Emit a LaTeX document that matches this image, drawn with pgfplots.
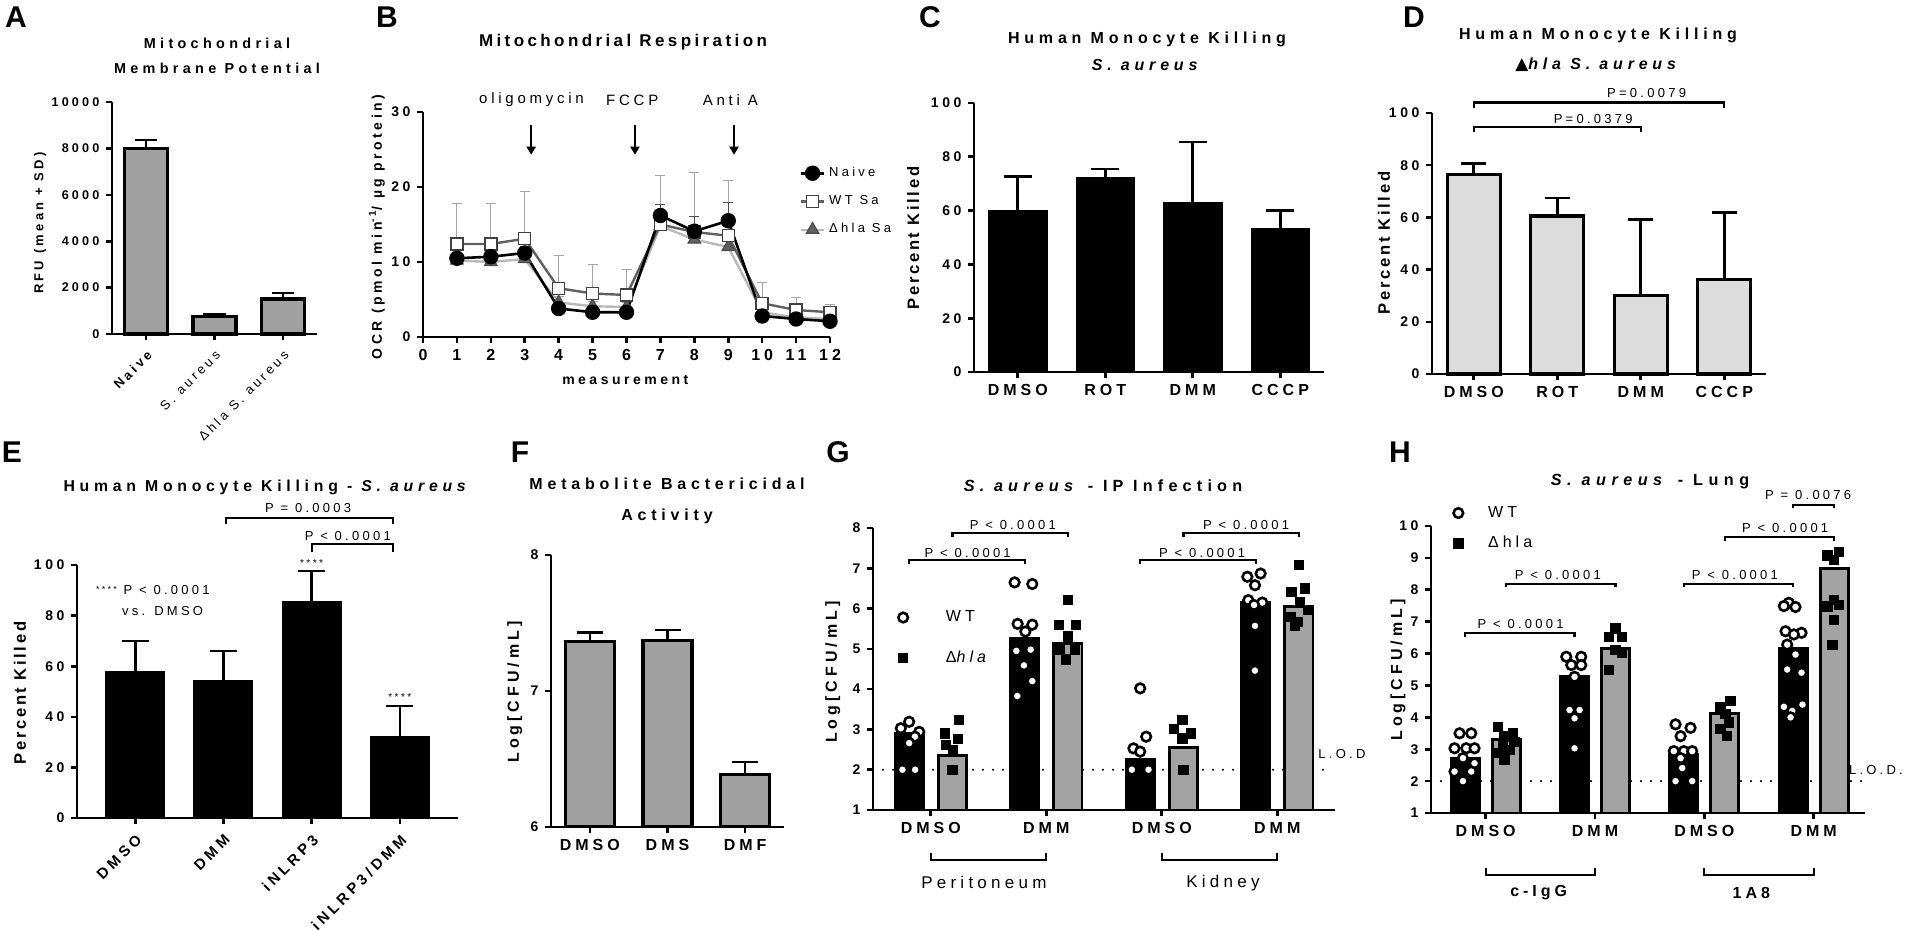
\documentclass[border=0pt]{standalone}
\usepackage{fontspec}
\setmainfont{Liberation Sans}[LetterSpace=25]
\newfontfamily\plainfont{Liberation Sans}
\newfontfamily\titlefont{Liberation Sans}[LetterSpace=30]
\newfontfamily\labelfont{Liberation Sans}[LetterSpace=16]
\newfontfamily\symfont{DejaVu Sans}
\usepackage{pgfplots}
\pgfplotsset{compat=1.18}
\usetikzlibrary{arrows.meta}
\definecolor{barA}{HTML}{A0A0A0}
\definecolor{barD}{HTML}{DCDCDC}
\definecolor{barG}{HTML}{A3A3A3}
\newcommand{\ttl}[2]{\titlefont\fontsize{#1}{#2}\selectfont\bfseries}
\newcommand{\pvfont}{\fontsize{6.5}{7}\selectfont}
\newcommand{\lett}{\plainfont\fontsize{15}{15}\selectfont\bfseries}
\tikzset{sig/.style={line width=1.1pt}, pv/.style={font=\pvfont}}
\pgfplotsset{
  prism/.style={
    scale only axis, anchor=south west,
    axis x line*=bottom, axis y line*=left,
    axis line style={line width=1.3pt, black},
    tick align=outside, major tick length=2.8pt,
    tick style={line width=1.3pt, black},
    x tick label style={font=\fontsize{8}{8}\selectfont\bfseries},
    y tick label style={font=\fontsize{7}{7}\selectfont\bfseries},
    scaled y ticks=false,
    ylabel style={font=\fontsize{8}{9}\selectfont\bfseries, anchor=center},
    clip=false,
  },
  pklabel/.style={ylabel style={font=\labelfont\fontsize{8.3}{9}\selectfont\bfseries}},
  ebar/.style={/pgfplots/error bars/y dir=plus, /pgfplots/error bars/y explicit,
    /pgfplots/error bars/error bar style={line width=1.3pt, black},
    /pgfplots/error bars/error mark options={rotate=90, line width=1.3pt, black, mark size=#1}},
  ebarB/.style={/pgfplots/error bars/y dir=plus, /pgfplots/error bars/y explicit,
    /pgfplots/error bars/error bar style={line width=0.5pt, #1},
    /pgfplots/error bars/error mark options={rotate=90, line width=0.5pt, #1, mark size=2.5pt}},
  wtpts/.style={only marks, mark=*, mark size=2.4pt, mark options={fill=white, draw=black, line width=1.3pt}},
  hlapts/.style={only marks, mark=square*, mark size=2.3pt, mark options={fill=black, draw=black}},
  lod/.style={forget plot, line width=1.2pt, dash pattern=on 0pt off 5pt, line cap=round},
}
\begin{document}
\begin{tikzpicture}
\path[use as bounding box] (0,0) rectangle (960pt,-465pt);

% ---------------- A
\begin{axis}[prism, at={(56pt,-167pt)}, width=102.5pt, height=116pt,
  xmin=-0.5, xmax=2.5, ymin=0, ymax=10000,
  ytick={0,2000,4000,6000,8000,10000}, yticklabels={0,2000,4000,6000,8000,10000},
  xtick={0,1,2}, xticklabels={{\bfseries Naive},{\mdseries S. aureus},{\mdseries Δhla S. aureus}},
  x tick label style={rotate=45, anchor=north east, font=\fontsize{6.5}{7}\selectfont},
  y tick label style={font=\fontsize{6.3}{7}\selectfont\bfseries},
  ylabel={RFU (mean + SD)},
  ylabel style={at={(axis description cs:-0.351,0.478)}, font=\fontsize{6.5}{7}\selectfont\bfseries}]
\addplot[ybar, bar shift=0pt, bar width=0.63, fill=barA, draw=black, line width=1.6pt, ebar=5.5pt]
  coordinates {(0,7980) +- (0,380) (1,740) +- (0,110) (2,1510) +- (0,250)};
\end{axis}

% ---------------- B
\begin{axis}[prism, at={(211.5pt,-168.5pt)}, width=203.5pt, height=112.5pt,
  xmin=0, xmax=12, ymin=0, ymax=30,
  xtick={0,1,2,3,4,5,6,7,8,9,10,11,12}, xticklabels={0,1,2,3,4,5,6,7,8,9,10,11,12},
  ytick={0,10,20,30}, yticklabels={0,10,20,30},
  tick label style={font=\fontsize{6.4}{7}\selectfont\bfseries},
  xlabel={measurement},
  xlabel style={at={(axis description cs:0.497,-0.191)}, anchor=center, font=\fontsize{7}{8}\selectfont\bfseries},
  ylabel={OCR (pmol min\textsuperscript{-1}/ µg protein)},
  ylabel style={at={(axis description cs:-0.113,0.489)}, font=\fontsize{7}{8}\selectfont\bfseries},
  legend style={at={(axis description cs:0.925,0.775)}, anchor=north west, draw=none, fill=none,
    font=\fontsize{6.5}{7}\selectfont, row sep=4pt, inner sep=0pt},
  legend cell align=left, reverse legend,
  legend image code/.code={\draw[mark repeat=2,mark phase=2,#1] plot coordinates {(0cm,0cm)(0.2cm,0cm)(0.4cm,0cm)};}]
\addplot[color=gray!55, line width=1.2pt, mark=triangle*, mark size=3.6pt,
  mark options={solid, fill=gray!75!black, draw=gray!60!black, line width=0.6pt}, ebarB=gray!70]
  coordinates {(1,10.2)+-(0,0.5) (2,10.0)+-(0,0.5) (3,10.4)+-(0,0.6) (4,4.6)+-(0,0.8) (5,4.1)+-(0,0.6) (6,4.0)+-(0,0.6)
   (7,14.8)+-(0,1.0) (8,13.0)+-(0,3.0) (9,12.0)+-(0,2.0) (10,3.3)+-(0,0.5) (11,2.6)+-(0,0.4) (12,2.4)+-(0,0.3)};
\addlegendentry{Δhla Sa}
\addplot[color=gray!75!black, line width=1.2pt, mark=square*, mark size=3pt,
  mark options={solid, fill=white, draw=black!75, line width=0.7pt}, ebarB=gray!70]
  coordinates {(1,12.4)+-(0,5.4) (2,12.4)+-(0,5.4) (3,13.1)+-(0,6.3) (4,6.5)+-(0,4.4) (5,5.8)+-(0,3.8) (6,5.6)+-(0,3.4)
   (7,15.0)+-(0,6.5) (8,14.0)+-(0,7.9) (9,13.5)+-(0,7.4) (10,4.5)+-(0,2.8) (11,3.6)+-(0,1.7) (12,3.3)+-(0,1.0)};
\addlegendentry{WT Sa}
\addplot[color=black, line width=1.3pt, mark=*, mark size=3.2pt,
  mark options={solid, fill=black}, ebarB=black!70]
  coordinates {(1,10.5)+-(0,0.6) (2,10.7)+-(0,0.6) (3,11.2)+-(0,0.8) (4,3.8)+-(0,0.8) (5,3.3)+-(0,0.5) (6,3.3)+-(0,0.5)
   (7,16.2)+-(0,1.5) (8,14.1)+-(0,2.0) (9,15.5)+-(0,2.4) (10,2.8)+-(0,0.5) (11,2.4)+-(0,0.4) (12,2.1)+-(0,0.3)};
\addlegendentry{Naive}
\draw[line width=1pt, -{Triangle[length=4pt,width=4.5pt]}] (axis cs:3.19,28.3) -- (axis cs:3.19,24.3);
\draw[line width=1pt, -{Triangle[length=4pt,width=4.5pt]}] (axis cs:6.25,28.3) -- (axis cs:6.25,24.3);
\draw[line width=1pt, -{Triangle[length=4pt,width=4.5pt]}] (axis cs:9.17,28.3) -- (axis cs:9.17,24.3);
\node[font=\fontsize{7.5}{8}\selectfont] at (axis cs:3.2,31.6) {oligomycin};
\node[font=\fontsize{7.5}{8}\selectfont] at (axis cs:6.17,31.6) {FCCP};
\node[font=\fontsize{7.5}{8}\selectfont] at (axis cs:9.06,31.6) {Anti A};
\end{axis}

% ---------------- C
\begin{axis}[prism, pklabel, at={(487pt,-186pt)}, width=175pt, height=134.5pt,
  xmin=-0.5, xmax=3.5, ymin=0, ymax=100,
  ytick={0,20,40,60,80,100}, yticklabels={0,20,40,60,80,100},
  xtick={0,1,2,3}, xticklabels={DMSO,ROT,DMM,CCCP},
  ylabel={Percent Killed}, ylabel style={at={(axis description cs:-0.174,0.498)}}]
\addplot[ybar, bar shift=0pt, bar width=0.65, fill=black, draw=black, line width=1.3pt, ebar=7pt]
  coordinates {(0,59.6) +- (0,13.1) (1,72) +- (0,3.5) (2,62.7) +- (0,22.8) (3,53.2) +- (0,6.8)};
\end{axis}

% ---------------- D
\begin{axis}[prism, pklabel, at={(716pt,-187pt)}, width=167pt, height=130.5pt,
  xmin=-0.5, xmax=3.5, ymin=0, ymax=100,
  ytick={0,20,40,60,80,100}, yticklabels={0,20,40,60,80,100},
  xtick={0,1,2,3}, xticklabels={DMSO,ROT,DMM,CCCP},
  ylabel={Percent Killed}, ylabel style={at={(axis description cs:-0.144,0.502)}}]
\addplot[ybar, bar shift=0pt, bar width=0.635, fill=barD, draw=black, line width=1.6pt, ebar=6.25pt]
  coordinates {(0,76.4) +- (0,4.2) (1,60.5) +- (0,7.0) (2,30) +- (0,29.2) (3,36.3) +- (0,25.6)};
\draw[sig] (axis cs:0,92.7) -- (axis cs:0,94.6) -- (axis cs:2,94.6) -- (axis cs:2,92.7);
\node[pv] at (axis cs:1.43,97.7) {P=0.0379};
\draw[sig] (axis cs:0,102) -- (axis cs:0,104) -- (axis cs:3,104) -- (axis cs:3,102);
\node[pv] at (axis cs:2.07,107.6) {P=0.0079};
\end{axis}

% ---------------- E
\begin{axis}[prism, pklabel, at={(38.5pt,-409pt)}, width=190.5pt, height=126.5pt,
  xmin=-0.66, xmax=3.66, ymin=0, ymax=100,
  ytick={0,20,40,60,80,100}, yticklabels={0,20,40,60,80,100},
  xtick={0,1,2,3}, xticklabels={DMSO,DMM,iNLRP3,iNLRP3/DMM},
  x tick label style={rotate=45, anchor=north east, font=\fontsize{7.5}{8}\selectfont\bfseries},
  ylabel={Percent Killed}, ylabel style={at={(axis description cs:-0.15,0.494)}}]
\addplot[ybar, bar shift=0pt, bar width=0.65, fill=black, draw=black, line width=1.3pt, ebar=6.7pt]
  coordinates {(0,57.5) +- (0,12.5) (1,54.2) +- (0,11.8) (2,85.1) +- (0,12.5) (3,32) +- (0,12.2)};
\draw[sig] (axis cs:1.03,116.3) -- (axis cs:1.03,118.6) -- (axis cs:2.92,118.6) -- (axis cs:2.92,116.3);
\node[pv] at (axis cs:1.96,122.5) {P = 0.0003};
\draw[sig] (axis cs:2,105) -- (axis cs:2,108.3) -- (axis cs:2.92,108.3) -- (axis cs:2.92,105);
\node[pv] at (axis cs:2.41,111.5) {P < 0.0001};
\node[font=\fontsize{5}{5}\selectfont] at (axis cs:2,100.8) {****};
\node[font=\fontsize{5}{5}\selectfont] at (axis cs:3,47.8) {****};
\node[pv] at (axis cs:0.2,90) {\raisebox{0.3ex}{\fontsize{4.5}{5}\selectfont****} P < 0.0001};
\node[pv] at (axis cs:0.31,82) {vs. DMSO};
\end{axis}

% ---------------- F
\begin{axis}[prism, clip=true, clip mode=individual, at={(275.5pt,-413.5pt)}, width=116.5pt, height=136pt,
  xmin=-0.5, xmax=2.5, ymin=6, ymax=8, ytick={6,7,8}, yticklabels={6,7,8},
  xtick={0,1,2}, xticklabels={DMSO,DMS,DMF},
  ylabel={Log[CFU/mL]}, ylabel style={at={(axis description cs:-0.155,0.496)}}]
\addplot[ybar, bar shift=0pt, bar width=0.63, fill=barA, draw=black, line width=1.6pt, ebar=6.5pt]
  coordinates {(0,7.364) +- (0,0.066) (1,7.37) +- (0,0.08) (2,6.384) +- (0,0.093)};
\end{axis}

% ---------------- G
\begin{axis}[prism, clip=true, clip mode=individual, at={(436.5pt,-405pt)}, width=231pt, height=141pt,
  xmin=-0.5, xmax=3.5, ymin=1, ymax=8,
  ytick={1,2,3,4,5,6,7,8}, yticklabels={1,2,3,4,5,6,7,8},
  xtick={0,1,2,3}, xticklabels={DMSO,DMM,DMSO,DMM},
  ylabel={Log[CFU/mL]}, ylabel style={at={(axis description cs:-0.087,0.489)}},
  legend style={at={(axis description cs:0.054,0.723)}, anchor=north west, draw=none, fill=none,
    font=\fontsize{8}{9}\selectfont, row sep=9pt, column sep=17pt, inner sep=0pt},
  legend cell align=left]
\addplot[lod] coordinates {(-0.5,2) (3.45,2)};
\addplot[ybar, bar shift=0pt, bar width=0.243, fill=black, draw=black, line width=1.4pt, forget plot]
  coordinates {(-0.1875,2.9) (0.8125,5.26) (1.8125,2.26) (2.8125,6.15)};
\addplot[ybar, bar shift=0pt, bar width=0.243, fill=barG, draw=black, line width=1.4pt, forget plot]
  coordinates {(0.1875,2.36) (1.1875,5.14) (2.1875,2.55) (3.1875,6.05)};
\addplot[wtpts] coordinates {
  (-0.187,3.19) (-0.259,3.03) (-0.100,2.94) (-0.137,2.82) (-0.187,2.66) (-0.245,2.0) (-0.135,2.0)
  (0.726,6.65) (0.879,6.61) (0.752,5.62) (0.879,5.60) (0.819,5.43) (0.741,4.95) (0.865,4.98) (0.807,4.59) (0.879,4.20) (0.749,3.83)
  (1.813,4.02) (1.865,2.82) (1.755,2.53) (1.813,2.45) (1.741,2.0) (1.885,2.0)
  (2.856,6.87) (2.741,6.79) (2.807,6.58) (2.749,6.21) (2.870,6.15) (2.799,6.09) (2.807,5.57) (2.807,4.46)};
\addlegendentry{WT}
\addplot[hlapts] coordinates {
  (0.245,3.23) (0.123,2.90) (0.236,2.76) (0.134,2.62) (0.193,2.50) (0.187,2.0)
  (1.187,6.21) (1.106,5.60) (1.259,5.60) (1.187,5.31) (1.115,4.98) (1.245,4.98) (1.173,4.74)
  (2.178,3.23) (2.106,3.02) (2.251,2.90) (2.178,2.78) (2.187,2.0)
  (3.190,7.08) (3.239,6.50) (3.123,6.42) (3.196,6.17) (3.268,5.96) (3.117,5.80) (3.181,5.67) (3.152,5.58)};
\addlegendentry{Δ\textit{hla}}
\draw[sig] (axis cs:-0.1875,7.1) -- (axis cs:-0.1875,7.2) -- (axis cs:0.8125,7.2) -- (axis cs:0.8125,7.1);
\node[pv] at (axis cs:0.32,7.38) {P < 0.0001};
\draw[sig] (axis cs:0.1875,7.77) -- (axis cs:0.1875,7.87) -- (axis cs:1.1875,7.87) -- (axis cs:1.1875,7.77);
\node[pv] at (axis cs:0.71,8.07) {P < 0.0001};
\draw[sig] (axis cs:1.8125,7.1) -- (axis cs:1.8125,7.2) -- (axis cs:2.8125,7.2) -- (axis cs:2.8125,7.1);
\node[pv] at (axis cs:2.35,7.38) {P < 0.0001};
\draw[sig] (axis cs:2.1875,7.77) -- (axis cs:2.1875,7.87) -- (axis cs:3.1875,7.87) -- (axis cs:3.1875,7.77);
\node[pv] at (axis cs:2.73,8.07) {P < 0.0001};
\node[pv] at (axis cs:3.56,2.39) {L.O.D};
\draw[sig] (axis cs:0,-0.067) -- (axis cs:0,-0.241) -- (axis cs:1,-0.241) -- (axis cs:1,-0.067);
\draw[sig] (axis cs:2,-0.067) -- (axis cs:2,-0.241) -- (axis cs:3,-0.241) -- (axis cs:3,-0.067);
\node[font=\fontsize{8.5}{9}\selectfont] at (axis cs:0.46,-0.81) {Peritoneum};
\node[font=\fontsize{8.5}{9}\selectfont] at (axis cs:2.53,-0.81) {Kidney};
\end{axis}

% ---------------- H
\begin{axis}[prism, clip=true, clip mode=individual, at={(715.5pt,-406.5pt)}, width=217pt, height=143.5pt,
  xmin=-0.5, xmax=3.47, ymin=1, ymax=10,
  ytick={1,2,3,4,5,6,7,8,9,10}, yticklabels={1,2,3,4,5,6,7,8,9,10},
  xtick={0,1,2,3}, xticklabels={DMSO,DMM,DMSO,DMM},
  ylabel={Log[CFU/mL]}, ylabel style={at={(axis description cs:-0.076,0.498)}},
  legend style={at={(axis description cs:0.051,1.085)}, anchor=north west, draw=none, fill=none,
    font=\fontsize{8}{9}\selectfont, row sep=4pt, column sep=10.5pt, inner sep=0pt},
  legend cell align=left]
\addplot[lod] coordinates {(-0.5,2) (3.55,2)};
\addplot[ybar, bar shift=0pt, bar width=0.256, fill=black, draw=black, line width=1.4pt, forget plot]
  coordinates {(-0.1875,2.7) (0.8125,5.29) (1.8125,2.85) (2.8125,6.16)};
\addplot[ybar, bar shift=0pt, bar width=0.256, fill=barG, draw=black, line width=1.4pt, forget plot]
  coordinates {(0.1875,3.3) (1.1875,6.16) (2.1875,4.12) (3.1875,8.67)};
\addplot[wtpts] coordinates {
  (-0.239,3.50) (-0.132,3.50) (-0.285,3.03) (-0.178,3.03) (-0.102,3.03) (-0.208,2.72) (-0.102,2.56) (-0.285,2.30) (-0.132,2.30) (-0.208,2.00)
  (0.737,5.90) (0.874,5.90) (0.783,5.64) (0.874,5.64) (0.813,5.27) (0.767,4.23) (0.859,4.23) (0.813,3.97) (0.813,3.03)
  (1.737,3.78) (1.874,3.67) (1.783,3.41) (1.721,2.94) (1.813,2.94) (1.889,2.94) (1.783,2.72) (1.798,2.41) (1.737,2.00) (1.889,2.00)
  (2.773,7.59) (2.728,7.49) (2.834,7.46) (2.743,6.70) (2.889,6.65) (2.819,6.60) (2.758,6.28) (2.834,5.97) (2.758,5.50) (2.889,5.40) (2.898,4.40) (2.728,4.33) (2.804,4.20) (2.789,4.00)};
\addlegendentry{WT}
\addplot[hlapts] coordinates {
  (0.111,3.71) (0.248,3.50) (0.172,3.40) (0.263,3.24) (0.157,3.14) (0.218,2.99) (0.126,2.88) (0.172,2.67)
  (1.187,6.79) (1.126,6.53) (1.248,6.53) (1.187,6.11) (1.248,6.01) (1.126,5.49)
  (2.239,4.52) (2.147,4.31) (2.193,4.10) (2.224,3.84) (2.147,3.63) (2.208,3.42)
  (3.233,9.19) (3.126,9.08) (3.187,8.93) (3.187,7.68) (3.126,7.48) (3.233,7.53) (3.187,7.06) (3.172,6.28)};
\addlegendentry{Δhla}
\draw[sig] (axis cs:-0.1875,6.52) -- (axis cs:-0.1875,6.64) -- (axis cs:0.8125,6.64) -- (axis cs:0.8125,6.52);
\node[pv] at (axis cs:0.32,6.92) {P < 0.0001};
\draw[sig] (axis cs:0.1875,8.09) -- (axis cs:0.1875,8.18) -- (axis cs:1.1875,8.18) -- (axis cs:1.1875,8.09);
\node[pv] at (axis cs:0.66,8.46) {P < 0.0001};
\draw[sig] (axis cs:1.8125,8.09) -- (axis cs:1.8125,8.18) -- (axis cs:2.8125,8.18) -- (axis cs:2.8125,8.09);
\node[pv] at (axis cs:2.28,8.46) {P < 0.0001};
\draw[sig] (axis cs:2.1875,9.54) -- (axis cs:2.1875,9.65) -- (axis cs:3.1875,9.65) -- (axis cs:3.1875,9.54);
\node[pv] at (axis cs:2.74,9.93) {P < 0.0001};
\draw[sig] (axis cs:2.8125,10.55) -- (axis cs:2.8125,10.65) -- (axis cs:3.1875,10.65) -- (axis cs:3.1875,10.55);
\node[pv] at (axis cs:2.95,10.97) {P = 0.0076};
\node[pv] at (axis cs:3.57,2.35) {L.O.D.};
\draw[sig] (axis cs:0,-0.724) -- (axis cs:0,-0.944) -- (axis cs:1,-0.944) -- (axis cs:1,-0.724);
\draw[sig] (axis cs:2,-0.724) -- (axis cs:2,-0.944) -- (axis cs:3,-0.944) -- (axis cs:3,-0.724);
\node[font=\fontsize{8}{9}\selectfont\bfseries] at (axis cs:0.485,-1.51) {c-IgG};
\node[font=\fontsize{8}{9}\selectfont\bfseries] at (axis cs:2.43,-1.51) {1A8};
\end{axis}

% ---------------- titles
\node[align=center, font=\ttl{7.2}{12.5}] at (108.5pt,-27.75pt) {Mitochondrial\\Membrane Potential};
\node[font=\plainfont\fontsize{8.5}{10}\selectfont\bfseries\addfontfeatures{LetterSpace=20}] at (311.5pt,-21pt) {Mitochondrial Respiration};
\node[align=center, font=\ttl{8}{13.5}] at (573.5pt,-25.75pt) {Human Monocyte Killing\\\textit{S. aureus}};
\node[align=center, font=\ttl{8}{15}] at (799pt,-25pt) {Human Monocyte Killing\\{\symfont\fontsize{8.5}{8}\selectfont ▲}\textit{hla S. aureus}};
\node[font=\ttl{7.9}{9}] at (133.5pt,-243.5pt) {Human Monocyte Killing - \textit{S. aureus}};
\node[align=center, font=\ttl{8}{15.5}] at (333.5pt,-250.25pt) {Metabolite Bactericidal\\Activity};
\node[font=\ttl{8.1}{10}\addfontfeatures{LetterSpace=32}] at (551.5pt,-243pt) {\textit{S. aureus} - IP Infection};
\node[font=\ttl{8.1}{10}\addfontfeatures{LetterSpace=34}] at (825pt,-241pt) {\textit{S. aureus} - Lung};

% ---------------- panel letters
\node[font=\lett] at (8pt,-8.5pt) {A};
\node[font=\lett] at (193.5pt,-8.5pt) {B};
\node[font=\lett] at (465pt,-8.5pt) {C};
\node[font=\lett] at (707pt,-8.5pt) {D};
\node[font=\lett] at (6pt,-226pt) {E};
\node[font=\lett] at (260pt,-226pt) {F};
\node[font=\lett] at (419pt,-226pt) {G};
\node[font=\lett] at (700pt,-226pt) {H};
\end{tikzpicture}
\end{document}
